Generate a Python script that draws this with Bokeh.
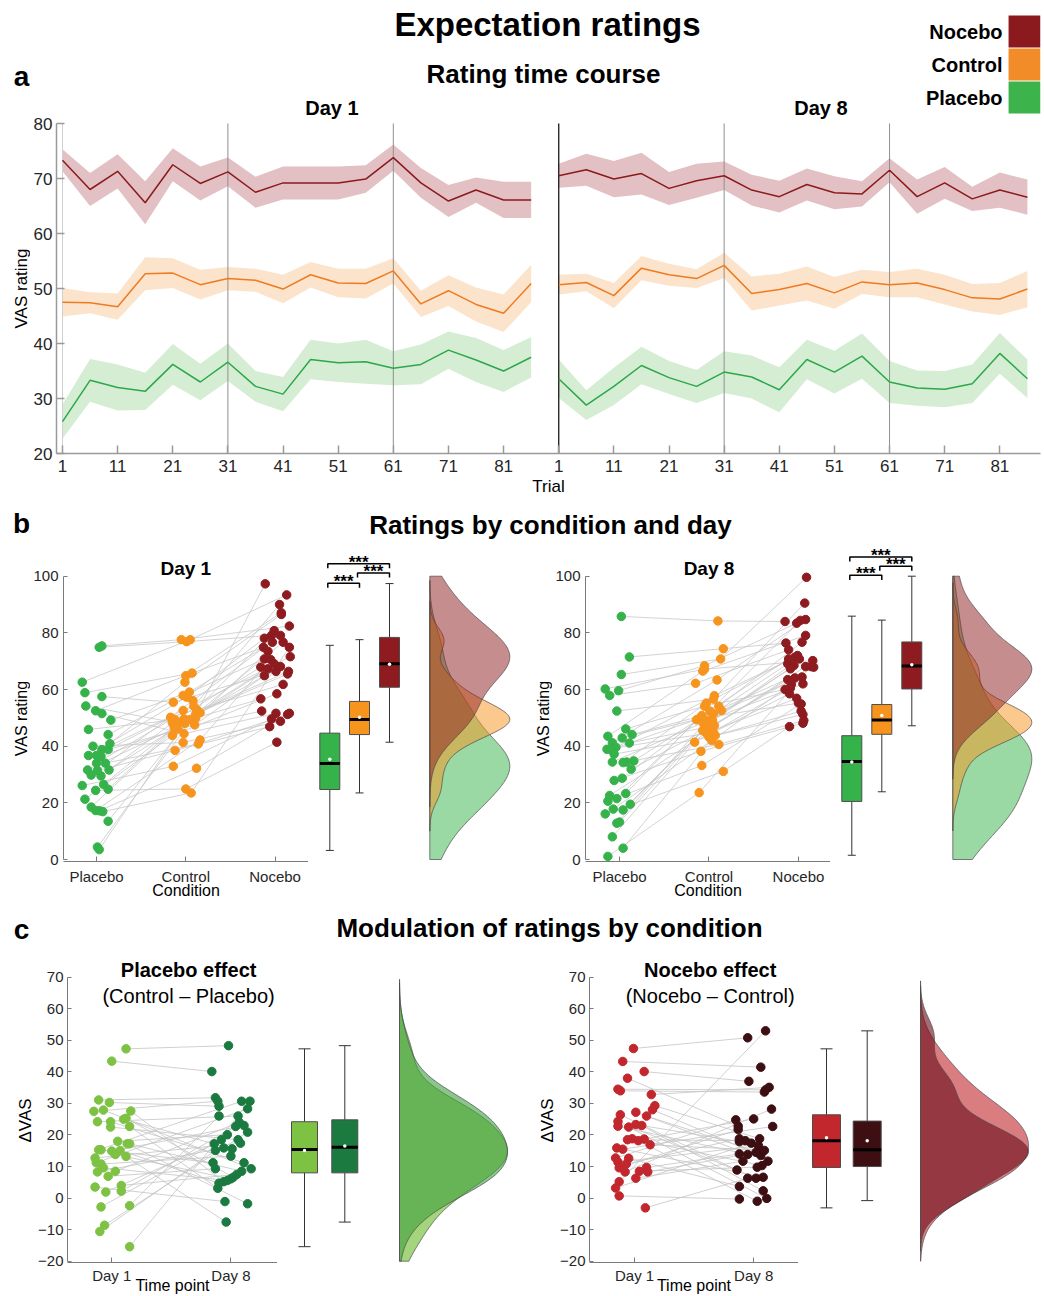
import numpy as np
from bokeh.plotting import figure
from bokeh.models import Range1d, FixedTicker, Label, LinearAxis
from bokeh.layouts import column, row
from bokeh.embed import file_html
from bokeh.resources import INLINE

FONT = "Liberation Sans"

# ---------------- Panel a: rating time course (mean +/- SEM) ----------------
trials = [1, 6, 11, 16, 21, 26, 31, 36, 41, 46, 51, 56, 61, 66, 71, 76, 81, 86]
trial_ticks = [1, 11, 21, 31, 41, 51, 61, 71, 81]
block_starts = [1, 31, 61]
day8_offset = 90

noc_mean_d1 = [73.3, 68.0, 71.3, 65.6, 72.5, 69.1, 71.2, 67.5, 69.2, 69.2, 69.2, 69.9, 73.8, 69.2, 65.9, 67.9, 66.1, 66.1]
noc_sem_d1 = [2.0, 3.0, 3.1, 3.9, 3.0, 3.1, 2.6, 2.8, 3.0, 3.0, 3.0, 2.5, 2.4, 2.7, 2.9, 2.3, 3.3, 3.3]
ctl_mean_d1 = [47.5, 47.4, 46.7, 52.7, 52.8, 50.7, 51.8, 51.5, 49.9, 52.5, 51.0, 50.9, 53.2, 47.2, 49.6, 47.1, 45.5, 50.9]
ctl_sem_d1 = [2.6, 1.9, 2.4, 3.0, 2.7, 2.7, 2.1, 2.1, 2.6, 2.3, 2.6, 2.7, 2.3, 2.4, 2.8, 3.1, 3.4, 3.4]
plc_mean_d1 = [25.8, 33.3, 32.0, 31.3, 36.2, 33.0, 36.6, 32.2, 30.8, 37.1, 36.5, 36.7, 35.5, 36.2, 38.8, 37.0, 35.0, 37.5]
plc_sem_d1 = [3.1, 3.9, 4.2, 3.4, 3.7, 3.3, 3.4, 2.8, 3.1, 3.6, 3.5, 4.0, 3.1, 3.6, 3.4, 4.0, 3.8, 3.7]

noc_mean_d8 = [70.5, 71.6, 69.9, 70.9, 68.2, 69.6, 70.5, 67.9, 66.7, 68.9, 67.4, 67.2, 71.5, 66.7, 69.2, 66.3, 67.9, 66.6]
noc_sem_d8 = [2.2, 2.9, 3.3, 3.8, 3.0, 3.1, 2.6, 2.8, 2.9, 2.9, 3.0, 2.3, 2.2, 3.1, 2.9, 2.2, 3.2, 3.2]
ctl_mean_d8 = [50.7, 51.1, 48.7, 53.7, 52.5, 51.8, 54.2, 49.1, 49.8, 50.9, 49.2, 51.2, 50.7, 51.0, 49.8, 48.3, 48.1, 49.9]
ctl_sem_d8 = [1.8, 1.6, 2.3, 2.2, 2.0, 1.7, 2.3, 3.1, 2.9, 3.1, 2.9, 2.2, 2.3, 2.6, 2.7, 2.5, 2.9, 3.3]
plc_mean_d8 = [33.6, 28.8, 32.2, 36.0, 33.8, 32.2, 34.8, 33.9, 31.6, 37.1, 34.8, 37.7, 33.0, 31.9, 31.7, 32.7, 38.2, 33.6]
plc_sem_d8 = [3.5, 2.7, 3.4, 3.4, 3.0, 3.0, 3.8, 3.9, 4.1, 3.6, 3.9, 4.1, 3.8, 3.2, 3.3, 3.5, 3.7, 3.5]

# ---------------- Panel b: per-subject ratings (subject order) + x jitter ----------------
conditions = ["Placebo", "Control", "Nocebo"]

plc_d1 = [75.4, 74.9, 62.6, 58.9, 57.5, 54.2, 52.5, 51.5, 49.2, 45.9, 44.1, 40.9, 40.0, 38.8, 38.8, 36.7, 36.7, 36.4, 34.0, 34.0, 31.6, 31.6, 31.4, 29.8, 29.5, 26.5, 26.1, 24.8, 24.4, 21.3, 18.5, 17.3, 17.2, 16.9, 13.5, 4.4, 3.5]
plc_d1_jit = [0.06, 0.03, -0.16, -0.13, 0.06, -0.12, -0.01, 0.06, 0.16, -0.09, 0.13, 0.15, -0.04, 0.06, 0.13, -0.09, 0.00, 0.05, 0.00, 0.10, -0.10, 0.14, 0.01, -0.06, 0.05, 0.08, -0.16, 0.13, -0.01, -0.13, -0.06, -0.01, 0.03, 0.07, 0.13, 0.01, 0.03]
ctl_d1 = [77.6, 76.9, 77.6, 65.8, 55.5, 48.1, 64.9, 44.4, 59.1, 49.3, 57.9, 62.6, 41.3, 52.6, 47.5, 57.3, 50.2, 46.1, 54.1, 40.8, 49.9, 51.8, 38.5, 56.1, 48.2, 46.5, 32.9, 49.6, 24.9, 43.8, 53.0, 42.2, 32.2, 23.5, 49.3, 51.2, 48.1]
ctl_d1_jit = [-0.05, 0.01, 0.05, 0.07, -0.14, -0.09, 0.00, -0.02, 0.04, -0.12, -0.03, -0.01, -0.03, -0.03, 0.10, 0.01, -0.17, -0.09, 0.09, 0.14, 0.11, 0.16, -0.12, 0.08, -0.15, -0.13, -0.14, -0.02, 0.00, -0.15, 0.12, 0.16, 0.12, 0.06, 0.04, 0.11, -0.01]
noc_d1 = [82.4, 79.1, 93.4, 74.9, 66.4, 56.7, 87.1, 51.6, 76.7, 67.9, 70.8, 86.5, 48.8, 71.6, 64.9, 78.1, 61.8, 52.4, 90.0, 51.2, 73.5, 68.1, 46.9, 79.1, 66.4, 69.1, 49.6, 65.5, 41.4, 58.5, 80.8, 70.6, 51.6, 74.9, 67.3, 97.3, 76.7]
noc_d1_jit = [0.16, -0.04, 0.13, -0.13, 0.01, -0.16, 0.07, 0.01, -0.03, -0.16, -0.12, 0.07, 0.06, 0.17, -0.12, -0.12, 0.09, -0.15, 0.05, 0.14, -0.08, 0.06, -0.06, 0.06, 0.15, -0.01, -0.04, 0.14, 0.02, 0.02, -0.01, -0.05, 0.16, 0.16, -0.08, -0.11, 0.09]

plc_d8 = [85.8, 71.5, 65.3, 60.2, 59.6, 57.9, 52.4, 46.1, 44.1, 43.5, 42.9, 41.2, 41.1, 39.6, 38.9, 38.8, 37.2, 34.8, 34.4, 34.4, 34.2, 31.9, 28.7, 27.9, 23.3, 22.6, 21.5, 20.6, 19.5, 17.8, 17.5, 16.1, 13.2, 12.8, 8.0, 4.0, 1.1]
plc_d8_jit = [0.02, 0.11, 0.02, -0.16, -0.01, -0.11, -0.03, 0.07, 0.14, -0.13, 0.03, -0.08, 0.11, -0.04, -0.14, -0.10, -0.06, 0.16, -0.08, 0.08, 0.04, 0.13, 0.03, -0.06, 0.07, -0.11, -0.03, -0.13, 0.12, -0.07, 0.04, -0.16, 0.00, -0.03, -0.08, 0.04, -0.13]
ctl_d8 = [84.2, 74.4, 70.8, 67.2, 68.4, 62.2, 56.6, 54.1, 52.6, 66.5, 49.6, 63.4, 47.3, 57.8, 44.9, 51.5, 43.2, 54.1, 49.1, 40.6, 55.2, 46.1, 52.4, 38.2, 49.3, 44.6, 50.8, 33.2, 48.5, 42.0, 49.1, 31.1, 45.5, 47.9, 41.4, 43.8, 23.6]
ctl_d8_jit = [0.10, 0.16, 0.13, -0.05, -0.05, -0.15, 0.05, -0.05, 0.14, -0.07, -0.12, 0.09, 0.06, 0.06, 0.05, 0.05, 0.00, 0.11, -0.01, 0.11, -0.03, -0.01, 0.01, -0.09, -0.14, -0.03, -0.08, -0.08, 0.02, 0.03, 0.04, 0.16, -0.07, -0.06, -0.16, 0.07, -0.11]
noc_d8 = [84.0, 76.4, 99.6, 70.2, 83.4, 74.0, 90.5, 60.0, 64.4, 79.1, 55.2, 84.7, 68.1, 71.4, 58.5, 69.1, 51.2, 76.7, 62.0, 49.1, 72.0, 63.5, 84.4, 48.1, 67.9, 56.9, 70.8, 54.9, 68.5, 61.8, 70.8, 46.9, 64.1, 67.3, 60.5, 52.4, 68.1]
noc_d8_jit = [-0.15, -0.14, 0.09, 0.16, -0.02, -0.11, 0.07, -0.15, 0.04, 0.08, 0.00, 0.08, 0.08, -0.04, -0.10, -0.12, 0.05, 0.04, 0.05, 0.06, -0.01, -0.12, 0.02, 0.05, 0.17, -0.02, -0.11, 0.03, -0.05, -0.08, 0.01, -0.10, -0.04, -0.09, -0.09, 0.03, 0.14]

# box statistics: [whisker low, Q1, median, Q3, whisker high, mean]
box_b_d1 = {"Placebo": [3.2, 24.7, 33.9, 44.6, 75.6, 35.4],
            "Control": [23.5, 44.1, 49.4, 55.8, 77.6, 50.2],
            "Nocebo": [41.4, 60.8, 69.1, 78.4, 97.4, 68.9]}
box_b_d8 = {"Placebo": [1.5, 20.5, 34.6, 43.7, 85.9, 34.4],
            "Control": [23.9, 44.2, 49.2, 54.7, 84.5, 50.8],
            "Nocebo": [47.2, 60.2, 68.3, 76.8, 100.0, 68.7]}
# significance brackets: (pair of condition indices, bracket height)
sig_d1 = [((0, 2), 104.4), ((0, 1), 97.5), ((1, 2), 101.1)]
sig_d8 = [((0, 2), 106.8), ((0, 1), 100.3), ((1, 2), 103.5)]

# ---------------- Panel c: effects per subject (Day 1 -> Day 8) ----------------
time_points = ["Day 1", "Day 8"]
pe_d1 = [47.3, 43.4, 31.1, 30.3, 27.9, 27.6, 27.5, 25.3, 25.0, 24.2, 24.2, 22.7, 22.5, 18.0, 17.2, 17.2, 15.3, 15.3, 15.1, 14.9, 13.8, 13.2, 12.7, 11.2, 10.8, 9.6, 8.5, 8.3, 6.9, 4.0, 3.5, 2.2, 1.9, -2.4, -2.8, -8.6, -10.6, -15.4]
pe_d1_jit = [0.12, 0.00, -0.11, -0.02, -0.07, 0.16, -0.15, 0.12, 0.10, -0.12, -0.01, 0.15, -0.01, 0.05, 0.13, 0.15, -0.11, -0.09, 0.07, 0.00, 0.03, 0.12, -0.14, -0.13, -0.09, -0.07, 0.03, -0.12, -0.03, 0.08, -0.14, 0.08, -0.05, 0.15, -0.09, -0.06, -0.10, 0.15]
pe_d8 = [48.3, 40.1, 31.8, 29.1, 9.3, 5.2, 30.7, 6.6, 15.6, 26.0, 11.2, 3.1, 18.5, 20.1, -1.8, 8.5, 30.7, 11.2, 4.7, 23.0, 6.1, -7.6, 17.4, 28.3, 13.3, 5.6, 24.0, 15.9, 9.3, 7.5, -1.1, 22.7, 17.2, 26.0, 18.5, 20.9, 15.1, 30.7]
pe_d8_jit = [-0.02, -0.16, -0.13, -0.10, 0.17, -0.06, -0.11, 0.02, 0.01, 0.06, 0.11, -0.11, 0.06, -0.03, 0.14, 0.09, 0.09, -0.15, -0.10, 0.11, 0.00, -0.04, 0.08, 0.14, 0.00, -0.03, 0.07, -0.06, -0.13, 0.05, -0.05, 0.04, -0.14, -0.10, -0.08, 0.14, -0.13, 0.16]
ne_d1 = [47.4, 43.3, 40.1, 38.0, 34.5, 34.0, 32.8, 29.3, 28.0, 27.2, 26.4, 26.0, 24.3, 23.3, 23.0, 22.8, 22.5, 18.8, 18.7, 18.5, 18.2, 16.9, 15.9, 15.5, 12.7, 12.6, 11.4, 10.8, 9.7, 9.6, 8.5, 8.3, 8.3, 6.3, 5.2, 3.2, 0.7, -3.1]
ne_d1_jit = [-0.01, -0.10, 0.08, -0.06, -0.14, -0.12, 0.14, 0.17, 0.15, 0.01, -0.12, 0.10, -0.14, 0.01, 0.06, -0.14, -0.05, -0.02, 0.08, -0.06, 0.03, 0.13, -0.15, -0.10, -0.16, -0.05, -0.14, -0.07, 0.10, -0.13, 0.04, -0.08, 0.11, 0.01, -0.13, -0.16, -0.13, 0.09]
ne_d8 = [50.8, 41.5, 37.0, 22.8, 34.3, 33.6, 35.1, 18.8, 13.5, 11.7, 8.9, 14.5, 6.3, 17.9, 2.3, 13.8, -0.1, 10.3, 25.1, 18.2, -1.0, 15.1, 6.6, 22.7, 24.8, 3.7, 16.6, 18.8, 14.0, 21.7, 9.8, 28.2, 14.5, 11.7, 53.0, 17.4, -0.3, 6.3]
ne_d8_jit = [-0.05, 0.06, -0.04, -0.13, 0.10, 0.09, 0.13, 0.05, 0.06, 0.12, -0.14, 0.05, 0.02, -0.12, 0.08, -0.05, 0.11, 0.07, 0.00, -0.07, 0.03, 0.09, 0.08, 0.16, -0.15, -0.12, 0.04, -0.12, -0.12, -0.13, 0.03, 0.15, 0.02, -0.09, 0.10, -0.02, -0.12, -0.05]

box_pe = [[-15.4, 8.0, 15.4, 24.2, 47.3, 15.1], [-7.6, 8.0, 16.1, 24.8, 48.3, 16.5]]
box_ne = [[-3.1, 9.7, 18.2, 26.4, 47.3, 19.1], [-0.8, 10.0, 15.3, 24.4, 53.0, 18.2]]

# ---------------- styling ----------------
COL = {"Placebo": "#35B24A", "Control": "#F7941E", "Nocebo": "#8E1B1F"}
LEG = {"Nocebo": "#8B1A1E", "Control": "#F28C28", "Placebo": "#3CB44B"}
TC_LINE = {"Nocebo": "#8B1A1A", "Control": "#EE7B20", "Placebo": "#2BA84A"}
TC_BAND = {"Nocebo": "#E2C0C4", "Control": "#FCE3CC", "Placebo": "#D5EDD3"}
AX_COL = "#7a7a7a"


def base_fig(w, h, xr, yr, ml, mr, mt, mb, pxr, pyr):
    p = figure(width=w, height=h, x_range=Range1d(*xr), y_range=Range1d(*yr),
               output_backend="svg", toolbar_location=None,
               x_axis_location=None, y_axis_location=None,
               min_border_left=ml, min_border_right=mr, min_border_top=mt, min_border_bottom=mb)
    p.extra_x_ranges = {"px": Range1d(*pxr)}
    p.extra_y_ranges = {"py": Range1d(*pyr)}
    p.grid.visible = False
    p.outline_line_color = None
    p.background_fill_color = "white"
    p.border_fill_color = "white"
    return p


def add_axis(p, side, ticks, bounds, overrides=None, size=15, tick_in=6, color=AX_COL, lw=1.0,
             standoff=6, label=None, label_size=16, label_standoff=5):
    ax = LinearAxis(ticker=FixedTicker(ticks=ticks), bounds=bounds)
    ax.major_tick_in = tick_in
    ax.major_tick_out = 0
    ax.minor_tick_line_color = None
    ax.axis_line_color = color
    ax.axis_line_width = lw
    ax.major_tick_line_color = color
    ax.major_tick_line_width = lw
    ax.major_label_text_font = FONT
    ax.major_label_text_font_size = f"{size}px"
    ax.major_label_text_color = "#262626"
    ax.major_label_standoff = standoff
    if overrides:
        ax.major_label_overrides = overrides
    if label:
        ax.axis_label = label
        ax.axis_label_text_font = FONT
        ax.axis_label_text_font_size = f"{label_size}px"
        ax.axis_label_text_font_style = "normal"
        ax.axis_label_text_color = "#000000"
        ax.axis_label_standoff = label_standoff
    p.add_layout(ax, side)
    return ax


def txt(p, x, y, s, size, bold=False, align="center", angle=0.0, pix=True, baseline="middle", color="#000000"):
    kw = dict(x_range_name="px", y_range_name="py") if pix else {}
    p.add_layout(Label(x=x, y=y, text=s, text_font=FONT, text_font_size=f"{size}px",
                       text_font_style="bold" if bold else "normal", text_align=align,
                       text_baseline=baseline, angle=angle, text_color=color, **kw))


def kde(vals, lo, hi, n=200):
    v = np.asarray(vals, float)
    sig = np.median(np.abs(v - np.median(v))) / 0.6745
    bw = sig * (4.0 / (3.0 * v.size)) ** 0.2
    a = max(lo, v.min() - 3 * bw)
    b = min(hi, v.max() + 3 * bw)
    g = np.linspace(a, b, n)
    d = np.exp(-0.5 * ((g[:, None] - v[None, :]) / bw) ** 2).sum(1)
    return g, d / d.max()


def violin(p, vals, lo, hi, base, width, color, alpha):
    g, d = kde(vals, lo, hi)
    xs = np.concatenate([[base], base + width * d, [base]])
    ys = np.concatenate([[g[0]], g, [g[-1]]])
    p.patch(xs, ys, fill_color=color, fill_alpha=alpha, line_color="#4a4a4a", line_width=0.7)


def boxes(p, centers, stats, colors, bw, capw):
    lo, q1, med, q3, hi, mean = [np.array([s[i] for s in stats], float) for i in range(6)]
    c = np.array(centers, float)
    p.segment(c, lo, c, q1, line_color="#333333", line_width=1)
    p.segment(c, q3, c, hi, line_color="#333333", line_width=1)
    p.segment(c - capw / 2, lo, c + capw / 2, lo, line_color="#333333", line_width=1)
    p.segment(c - capw / 2, hi, c + capw / 2, hi, line_color="#333333", line_width=1)
    p.vbar(x=c, width=bw, bottom=q1, top=q3, fill_color=colors, line_color="#4d4d4d", line_width=1)
    p.segment(c - bw / 2, med, c + bw / 2, med, line_color="black", line_width=3)
    p.scatter(c, mean, size=3.5, fill_color="white", line_color=None)


# ================= Row A: time course =================
A_LET_W = 30
PX_TRIAL = (502 - 60) / 80.0
PX_VAS = (453 - 123) / 60.0
xa0 = 1 - (60 - 54) / PX_TRIAL
xa1 = 1 + (1040 - 60) / PX_TRIAL
ya1 = 80 + 123 / PX_VAS

letA = base_fig(A_LET_W, 500, (0, A_LET_W), (453, 0), 0, 0, 0, 47, (0, A_LET_W), (453, 0))
txt(letA, 21, 76, "a", 28, bold=True)
txt(letA, 21, 288, "VAS rating", 17, angle=np.pi / 2)

pA = base_fig(1044 - A_LET_W, 500, (xa0, xa1), (20, ya1), 54 - A_LET_W, 4, 0, 47, (54, 1040), (453, 0))
series = [("Nocebo", noc_mean_d1, noc_sem_d1, noc_mean_d8, noc_sem_d8),
          ("Control", ctl_mean_d1, ctl_sem_d1, ctl_mean_d8, ctl_sem_d8),
          ("Placebo", plc_mean_d1, plc_sem_d1, plc_mean_d8, plc_sem_d8)]
for name, m1, s1, m8, s8 in series:
    for off, m, s in [(0, m1, s1), (day8_offset, m8, s8)]:
        x = np.array(trials) + off
        m = np.array(m)
        s = np.array(s)
        pA.varea(x=x, y1=m - s, y2=m + s, fill_color=TC_BAND[name], fill_alpha=1.0)
vl = [b for b in block_starts[1:]] + [b + day8_offset for b in block_starts[1:]]
pA.segment(x0=vl, y0=20, x1=vl, y1=80, line_color="#8f8f8f", line_width=1)
pA.segment(x0=[block_starts[0]], y0=20, x1=[block_starts[0]], y1=80, line_color="#d0d0d0", line_width=1)
pA.segment(x0=[block_starts[0] + day8_offset], y0=20, x1=[block_starts[0] + day8_offset], y1=80,
           line_color="#1a1a1a", line_width=1.3)
for name, m1, s1, m8, s8 in series:
    for off, m in [(0, m1), (day8_offset, m8)]:
        pA.line(np.array(trials) + off, m, line_color=TC_LINE[name], line_width=1.5)

add_axis(pA, "left", [20, 30, 40, 50, 60, 70, 80], (20, 80), size=17, tick_in=8, color="#9a9a9a", lw=1.5, standoff=4)
xt = trial_ticks + [t + day8_offset for t in trial_ticks]
ov = {t: str(t) for t in trial_ticks}
ov.update({t + day8_offset: str(t) for t in trial_ticks})
add_axis(pA, "below", xt, (xa0, xa1), overrides=ov, size=17, tick_in=8, color="#9a9a9a", lw=1.5, standoff=6,
         label="Trial", label_size=17, label_standoff=2)

legend_names = ["Nocebo", "Control", "Placebo"]
leg_y = [31, 64, 97]
pA.rect(x=[1024] * 3, y=leg_y, width=32, height=32, fill_color=[LEG[n] for n in legend_names],
        line_color=None, x_range_name="px", y_range_name="py")
for n, yy in zip(legend_names, leg_y):
    txt(pA, 1002, yy, n, 20, bold=True, align="right")
txt(pA, 546, 24, "Expectation ratings", 33, bold=True)
txt(pA, 542, 73, "Rating time course", 26, bold=True)
txt(pA, 330, 107, "Day 1", 20, bold=True)
txt(pA, 820, 107, "Day 8", 20, bold=True)

# ================= strip b title =================
sB = base_fig(1044, 40, (0, 1044), (540, 500), 0, 0, 0, 0, (0, 1044), (540, 500))
txt(sB, 21, 523, "b", 28, bold=True)
txt(sB, 550, 524, "Ratings by condition and day", 26, bold=True)

# ================= Row B: ratings by condition =================
B_H, B_TOP, B_BOT = 363, 540, 861
B_PX_VAS = (859 - 575.7) / 100.0
B_YR = ((859 - B_BOT) / B_PX_VAS, (859 - B_TOP) / B_PX_VAS)
B_LET_W = 30
B_GEOM = [dict(x0=0, axis=61, cat1=94.3, step=90.0, split=308, right=522, box=[329.3, 359.0, 389.0], vbase=429.3, vw=80),
          dict(x0=522, axis=583, cat1=617.3, step=90.2, split=830, right=1044, box=[851.3, 881.3, 911.3], vbase=952.3, vw=79)]


def panel_b(g, vals, jits, stats, sig, title):
    x0 = g["x0"]
    let = base_fig(B_LET_W, B_H, (x0, x0 + B_LET_W), (B_BOT, B_TOP), 0, 0, 0, B_H - (B_BOT - B_TOP),
                   (x0, x0 + B_LET_W), (B_BOT, B_TOP))
    txt(let, x0 + 21, 718, "VAS rating", 16, angle=np.pi / 2)

    xr = (1 - (g["cat1"] - g["axis"]) / g["step"], 1 + (g["split"] - g["cat1"]) / g["step"])
    sc = base_fig(g["split"] - x0 - B_LET_W, B_H, xr, B_YR, g["axis"] - x0 - B_LET_W, 0, 0,
                  B_H - (B_BOT - B_TOP), (g["axis"], g["split"]), (B_BOT, B_TOP))
    add_axis(sc, "left", [0, 20, 40, 60, 80, 100], (0, 100), size=15, tick_in=4, standoff=5)
    add_axis(sc, "below", [1, 2, 3], xr, overrides={1: "Placebo", 2: "Control", 3: "Nocebo"},
             size=15, tick_in=5, standoff=6, label="Condition", label_size=16, label_standoff=-6)
    n = len(vals[0])
    xs = [[k + 1 + jits[k][i] for k in range(3)] for i in range(n)]
    ys = [[vals[k][i] for k in range(3)] for i in range(n)]
    sc.multi_line(xs, ys, line_color="#c8c8c8", line_width=0.8)
    for k, name in enumerate(conditions):
        sc.scatter(np.array(jits[k]) + k + 1, vals[k], size=8.5, fill_color=COL[name], line_color=COL[name])
    cx = g["cat1"] + g["step"]
    txt(sc, cx, 568, title, 19, bold=True)

    bx = base_fig(g["right"] - g["split"], B_H, (g["split"], g["right"]), B_YR, 0, 0, 0,
                  B_H - (B_BOT - B_TOP), (g["split"], g["right"]), (B_BOT, B_TOP))
    boxes(bx, g["box"], [stats[c] for c in conditions], [COL[c] for c in conditions], 20, 8)
    for k, name in enumerate(conditions):
        violin(bx, vals[k], 0, 100, g["vbase"], g["vw"], COL[name], 0.5)
    for (i, j), lvl in sig:
        xa, xb = g["box"][i] - 2, g["box"][j]
        bx.line([xa, xa, xb, xb], [lvl - 1.6, lvl, lvl, lvl - 1.6], line_color="black", line_width=1.5)
        txt(bx, (xa + xb) / 2, lvl + 0.5, "***", 17, bold=True, pix=False)
    return [let, sc, bx]


rowB = row(*(panel_b(B_GEOM[0], [plc_d1, ctl_d1, noc_d1], [plc_d1_jit, ctl_d1_jit, noc_d1_jit], box_b_d1, sig_d1, "Day 1")
             + panel_b(B_GEOM[1], [plc_d8, ctl_d8, noc_d8], [plc_d8_jit, ctl_d8_jit, noc_d8_jit], box_b_d8, sig_d8, "Day 8")))

# ================= strip c title =================
S_C_H = 41
sC = base_fig(1044, S_C_H, (0, 1044), (903 + S_C_H, 903), 0, 0, 0, 0, (0, 1044), (903 + S_C_H, 903))
txt(sC, 21, 929, "c", 28, bold=True)
txt(sC, 549, 927, "Modulation of ratings by condition", 26, bold=True)

# ================= Row C: effects =================
C_TOP, C_BOT = 903 + S_C_H, 1262
C_H = 1296 - C_TOP
C_PX_VAS = (1260.7 - 976.7) / 90.0
C_YR = (70 - (C_BOT - 976.7) / C_PX_VAS, 70 + (976.7 - C_TOP) / C_PX_VAS)
C_LET_W = 35
C_GEOM = [dict(x0=0, axis=62, cat1=107.3, step=122.0, split=277, right=522, box=[304.0, 344.3], bw=26, vbase=399, vw=108),
          dict(x0=522, axis=585, cat1=631.0, step=121.3, split=798, right=1044, box=[826.0, 866.7], bw=28, vbase=920, vw=108)]


def panel_c(g, v1, j1, v8, j8, stats, cols, vcols, valph, title, subtitle):
    x0 = g["x0"]
    mb = C_H - (C_BOT - C_TOP)
    let = base_fig(C_LET_W, C_H, (x0, x0 + C_LET_W), (C_BOT, C_TOP), 0, 0, 0, mb, (x0, x0 + C_LET_W), (C_BOT, C_TOP))
    txt(let, x0 + 25, 1120, "\u0394VAS", 17, angle=np.pi / 2)

    xr = (1 - (g["cat1"] - g["axis"]) / g["step"], 1 + (g["split"] - g["cat1"]) / g["step"])
    sc = base_fig(g["split"] - x0 - C_LET_W, C_H, xr, C_YR, g["axis"] - x0 - C_LET_W, 0, 0, mb,
                  (g["axis"], g["split"]), (C_BOT, C_TOP))
    add_axis(sc, "left", list(range(-20, 71, 10)), (-20, 70), size=15, tick_in=4, standoff=4)
    add_axis(sc, "below", [1, 2], xr, overrides={1: time_points[0], 2: time_points[1]},
             size=15, tick_in=5, standoff=4, label="Time point", label_size=16, label_standoff=-10)
    n = len(v1)
    xs = [[1 + j1[i], 2 + j8[i]] for i in range(n)]
    ys = [[v1[i], v8[i]] for i in range(n)]
    sc.multi_line(xs, ys, line_color="#c4c4c4", line_width=0.8)
    sc.scatter(np.array(j1) + 1, v1, size=8.5, fill_color=cols[0], line_color=cols[0])
    sc.scatter(np.array(j8) + 2, v8, size=8.5, fill_color=cols[1], line_color=cols[1])
    cx = x0 + 186
    txt(sc, cx, 969, title, 20, bold=True)
    txt(sc, cx, 995, subtitle, 20)

    bx = base_fig(g["right"] - g["split"], C_H, (g["split"], g["right"]), C_YR, 0, 0, 0, mb,
                  (g["split"], g["right"]), (C_BOT, C_TOP))
    boxes(bx, g["box"], stats, cols, g["bw"], 12)
    violin(bx, v1, -20, np.inf, g["vbase"], g["vw"], vcols[0], valph[0])
    violin(bx, v8, -20, np.inf, g["vbase"], g["vw"], vcols[1], valph[1])
    return [let, sc, bx]


rowC = row(*(panel_c(C_GEOM[0], pe_d1, pe_d1_jit, pe_d8, pe_d8_jit, box_pe, ["#7DC243", "#1A7A40"],
                     ["#7DC243", "#3E9E3E"], [0.7, 0.6], "Placebo effect", "(Control \u2013 Placebo)")
             + panel_c(C_GEOM[1], ne_d1, ne_d1_jit, ne_d8, ne_d8_jit, box_ne, ["#C1272D", "#3D0F12"],
                       ["#C1272D", "#690A18"], [0.6, 0.6], "Nocebo effect", "(Nocebo \u2013 Control)")))

layout = column(row(letA, pA), row(sB), rowB, row(sC), rowC)
open("out.html", "w").write(file_html(layout, INLINE, "Expectation ratings"))
